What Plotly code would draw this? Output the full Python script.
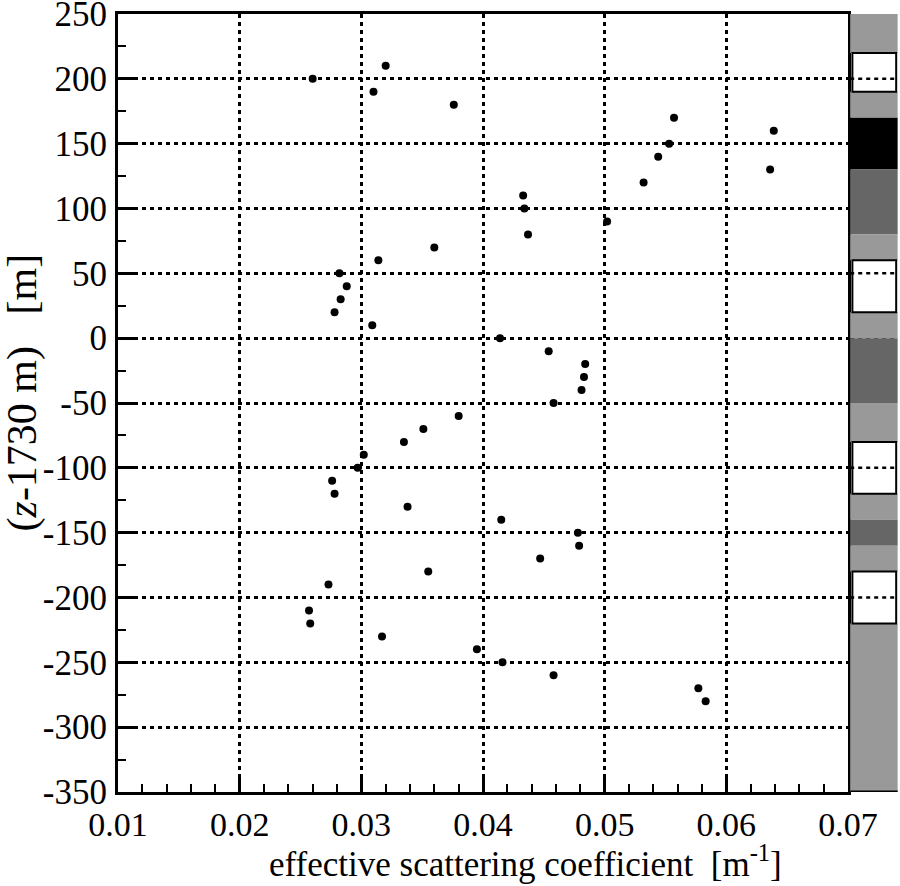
import plotly.graph_objects as go

# depth relative to 1730 m (m)
depth = [210, 200, 190, 180, 170, 160, 150, 140, 130, 120, 110, 100, 90, 80, 70, 60, 50, 40, 30, 20, 10, 0,
         -10, -20, -30, -40, -50, -60, -70, -80, -90, -100, -110, -120, -130, -140, -150, -160, -170, -180,
         -190, -210, -220, -230, -240, -250, -260, -270, -280]
# effective scattering coefficient (1/m)
scatter_coef = [0.0320, 0.0260, 0.0310, 0.0376, 0.0557, 0.0639, 0.0553, 0.0544, 0.0636, 0.0532, 0.0433, 0.0434,
                0.0502, 0.0437, 0.0360, 0.0314, 0.0282, 0.0288, 0.0283, 0.0278, 0.0309, 0.0414,
                0.0454, 0.0484, 0.0483, 0.0481, 0.0458, 0.0380, 0.0351, 0.0335, 0.0302, 0.0297, 0.0276, 0.0278,
                0.0338, 0.0415, 0.0478, 0.0479, 0.0447, 0.0355, 0.0273, 0.0257, 0.0258, 0.0317, 0.0395, 0.0416,
                0.0458, 0.0577, 0.0583]

# stratigraphy strip: layer tops, bottoms, shade
layer_top = [250, 220, 190, 170, 130, 80, 60, 20, 0, -50, -80, -120, -140, -160, -180, -220]
layer_bottom = [220, 190, 170, 130, 80, 60, 20, 0, -50, -80, -120, -140, -160, -180, -220, -350]
layer_shade = ["#999999", "#ffffff", "#999999", "#000000", "#666666", "#999999", "#ffffff", "#999999",
               "#666666", "#999999", "#ffffff", "#999999", "#666666", "#999999", "#ffffff", "#999999"]

y_ticks = [250, 200, 150, 100, 50, 0, -50, -100, -150, -200, -250, -300, -350]
y_tick_text = ["250", "200", "150", "100", "50", "0", "-50", "-100", "-150", "-200", "-250", "-300", "-350"]
x_ticks = [0.01, 0.02, 0.03, 0.04, 0.05, 0.06, 0.07]
x_tick_text = ["0.01", "0.02", "0.03", "0.04", "0.05", "0.06", "0.07"]

FONT = "Liberation Serif"

fig = go.Figure()
fig.add_trace(go.Scatter(x=scatter_coef, y=depth, mode="markers",
                         marker=dict(color="black", size=8), showlegend=False))

shapes = []
sx0, sx1 = 1.003, 1.068
# dotted grid lines through the strip (only visible in white layers)
for g in y_ticks[1:-1]:
    shapes.append(dict(type="line", xref="paper", yref="y", x0=sx0, x1=sx1, y0=g, y1=g,
                       line=dict(color="black", width=2.5, dash="4px,4px"), layer="above"))
# filled (non-white) layers
for t, b, c in zip(layer_top, layer_bottom, layer_shade):
    if c != "#ffffff":
        shapes.append(dict(type="rect", xref="paper", yref="y", x0=sx0, x1=sx1, y0=b, y1=t,
                           fillcolor=c, line=dict(width=0), layer="above"))
# white layers: outlined boxes
for t, b, c in zip(layer_top, layer_bottom, layer_shade):
    if c == "#ffffff":
        shapes.append(dict(type="rect", xref="paper", yref="y", x0=sx0 + 0.003, x1=sx1 - 0.002, y0=b, y1=t,
                           fillcolor="rgba(0,0,0,0)", line=dict(color="black", width=2), layer="above"))
# strip bottom line
shapes.append(dict(type="line", xref="paper", yref="y", x0=sx0, x1=sx1, y0=-350, y1=-350,
                   line=dict(color="black", width=3), layer="above"))

fig.update_layout(
    width=900, height=886,
    margin=dict(l=118, r=52, t=14, b=94, autoexpand=False),
    paper_bgcolor="white", plot_bgcolor="white",
    font=dict(family=FONT, size=34, color="black"),
    shapes=shapes,
    xaxis=dict(range=[0.01, 0.07], tickmode="array", tickvals=x_ticks, ticktext=x_tick_text,
               ticks="inside", ticklen=16, tickwidth=2.5, tickcolor="black",
               minor=dict(dtick=0.002, tick0=0.01, ticks="inside", ticklen=8, tickwidth=2, tickcolor="black",
                          showgrid=False),
               showline=True, linewidth=3, linecolor="black", mirror=True,
               showgrid=True, gridcolor="black", gridwidth=2.5, griddash="4px,4px",
               zeroline=False, tickfont=dict(size=34), ticklabelstandoff=0, ticklabeloverflow="allow"),
    yaxis=dict(range=[-350, 250], tickmode="array", tickvals=y_ticks, ticktext=y_tick_text,
               ticks="inside", ticklen=16, tickwidth=2.5, tickcolor="black",
               minor=dict(dtick=25, tick0=0, ticks="inside", ticklen=8, tickwidth=2, tickcolor="black",
                          showgrid=False),
               showline=True, linewidth=3, linecolor="black", mirror=True,
               showgrid=True, gridcolor="black", gridwidth=2.5, griddash="4px,4px",
               zeroline=False, tickfont=dict(size=35), ticklabelstandoff=1, ticklabeloverflow="allow"),
    annotations=[
        dict(text="effective scattering coefficient\u00a0\u00a0[m<sup>-1</sup>]", xref="paper", yref="paper",
             x=0.558, y=-0.0895, xanchor="center", yanchor="middle", showarrow=False,
             font=dict(size=35, family=FONT)),
        dict(text="(<i>z</i>-1730 m)\u00a0\u00a0\u00a0[m]", xref="paper", yref="paper",
             x=-0.131, y=0.514, xanchor="center", yanchor="middle", textangle=-90, showarrow=False,
             font=dict(size=42, family=FONT)),
    ],
)

fig.write_html("out.html", config={"displayModeBar": False},
               post_script="document.body.style.margin='0';document.body.style.overflow='hidden';")
